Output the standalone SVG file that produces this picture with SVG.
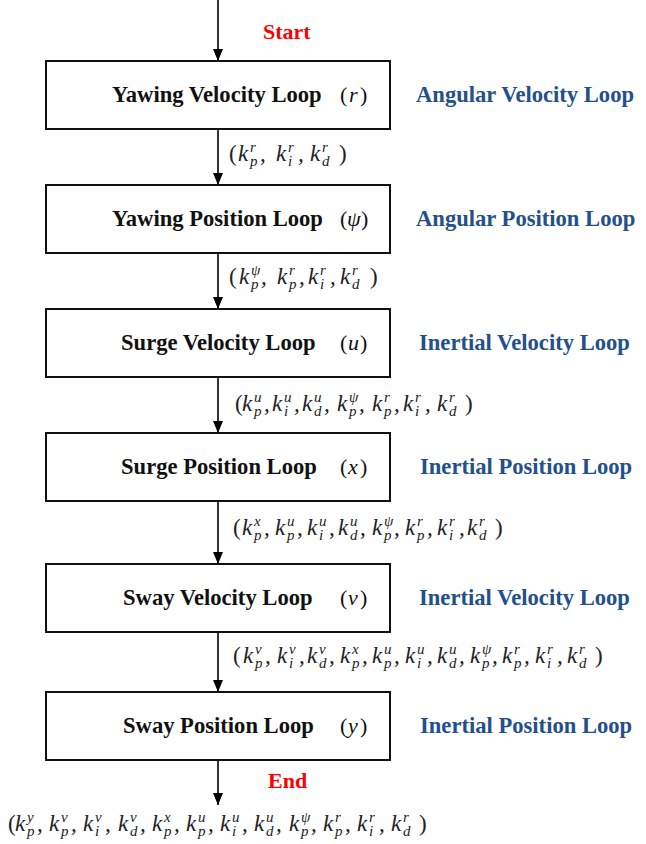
<svg xmlns="http://www.w3.org/2000/svg" width="646" height="844" viewBox="0 0 646 844">
<style>
.box{fill:#fff;stroke:#111;stroke-width:2}
.t{font-family:"Liberation Serif","Times New Roman",serif;font-weight:bold;font-size:22.6px;fill:#111}
.v{font-family:"Liberation Serif","Times New Roman",serif;font-size:22px;fill:#111}
.vi{font-style:italic}
.side{font-family:"Liberation Serif","Times New Roman",serif;font-weight:bold;font-size:22.6px;fill:#23508c}
.red{font-family:"Liberation Serif","Times New Roman",serif;font-weight:bold;font-size:22px;fill:#ff0000}
.m{font-family:"Liberation Serif","Times New Roman",serif;font-style:italic;font-size:23px;fill:#222}
.s{font-size:15px}
.u{font-style:normal}
.con{stroke:#000;stroke-width:1.6;fill:none;marker-end:url(#ah)}
</style>
<defs>
<marker id="ah" markerUnits="userSpaceOnUse" markerWidth="12" markerHeight="10" viewBox="0 0 12 10" refX="12" refY="5" orient="auto">
<path d="M0,0 L12,5 L0,10 z" fill="#000"/>
</marker>
</defs>
<rect width="646" height="844" fill="#fff"/>

<g id="connectors">
<line class="con" x1="218" y1="0" x2="218" y2="61"/>
<line class="con" x1="218" y1="129" x2="218" y2="185"/>
<line class="con" x1="218" y1="253" x2="218" y2="309"/>
<line class="con" x1="218" y1="377" x2="218" y2="433"/>
<line class="con" x1="218" y1="501" x2="218" y2="564"/>
<line class="con" x1="218" y1="632" x2="218" y2="692"/>
<line class="con" x1="218" y1="760" x2="218" y2="805"/>

<text class="m"><tspan class="u" x="229" y="161">(</tspan><tspan x="238" y="161">k</tspan><tspan class="s" x="250" y="152">r</tspan><tspan class="s" x="250" y="166">p</tspan><tspan x="260" y="161">,</tspan><tspan x="276" y="161">k</tspan><tspan class="s" x="288" y="152">r</tspan><tspan class="s" x="288" y="166">i</tspan><tspan x="298" y="161">,</tspan><tspan x="310" y="161">k</tspan><tspan class="s" x="322" y="152">r</tspan><tspan class="s" x="322" y="166">d</tspan><tspan class="u" x="339" y="161">)</tspan></text>

<text class="m"><tspan class="u" x="229" y="284">(</tspan><tspan x="239" y="284">k</tspan><tspan class="s" x="251" y="275">ψ</tspan><tspan class="s" x="251" y="289">p</tspan><tspan x="261" y="284">,</tspan><tspan x="277" y="284">k</tspan><tspan class="s" x="289" y="275">r</tspan><tspan class="s" x="289" y="289">p</tspan><tspan x="299" y="284">,</tspan><tspan x="308" y="284">k</tspan><tspan class="s" x="320" y="275">r</tspan><tspan class="s" x="320" y="289">i</tspan><tspan x="330" y="284">,</tspan><tspan x="340" y="284">k</tspan><tspan class="s" x="352" y="275">r</tspan><tspan class="s" x="352" y="289">d</tspan><tspan class="u" x="370" y="284">)</tspan></text>

<text class="m"><tspan class="u" x="235" y="411">(</tspan><tspan x="242" y="411">k</tspan><tspan class="s" x="254" y="402">u</tspan><tspan class="s" x="254" y="416">p</tspan><tspan x="264" y="411">,</tspan><tspan x="272" y="411">k</tspan><tspan class="s" x="284" y="402">u</tspan><tspan class="s" x="284" y="416">i</tspan><tspan x="294" y="411">,</tspan><tspan x="302" y="411">k</tspan><tspan class="s" x="314" y="402">u</tspan><tspan class="s" x="314" y="416">d</tspan><tspan x="324" y="411">,</tspan><tspan x="337" y="411">k</tspan><tspan class="s" x="349" y="402">ψ</tspan><tspan class="s" x="349" y="416">p</tspan><tspan x="359" y="411">,</tspan><tspan x="372" y="411">k</tspan><tspan class="s" x="384" y="402">r</tspan><tspan class="s" x="384" y="416">p</tspan><tspan x="394" y="411">,</tspan><tspan x="403" y="411">k</tspan><tspan class="s" x="415" y="402">r</tspan><tspan class="s" x="415" y="416">i</tspan><tspan x="425" y="411">,</tspan><tspan x="437" y="411">k</tspan><tspan class="s" x="449" y="402">r</tspan><tspan class="s" x="449" y="416">d</tspan><tspan class="u" x="465" y="411">)</tspan></text>

<text class="m"><tspan class="u" x="233" y="535">(</tspan><tspan x="242" y="535">k</tspan><tspan class="s" x="254" y="526">x</tspan><tspan class="s" x="254" y="540">p</tspan><tspan x="264" y="535">,</tspan><tspan x="275" y="535">k</tspan><tspan class="s" x="287" y="526">u</tspan><tspan class="s" x="287" y="540">p</tspan><tspan x="297" y="535">,</tspan><tspan x="307" y="535">k</tspan><tspan class="s" x="319" y="526">u</tspan><tspan class="s" x="319" y="540">i</tspan><tspan x="329" y="535">,</tspan><tspan x="338" y="535">k</tspan><tspan class="s" x="350" y="526">u</tspan><tspan class="s" x="350" y="540">d</tspan><tspan x="360" y="535">,</tspan><tspan x="372" y="535">k</tspan><tspan class="s" x="384" y="526">ψ</tspan><tspan class="s" x="384" y="540">p</tspan><tspan x="394" y="535">,</tspan><tspan x="405" y="535">k</tspan><tspan class="s" x="417" y="526">r</tspan><tspan class="s" x="417" y="540">p</tspan><tspan x="427" y="535">,</tspan><tspan x="437" y="535">k</tspan><tspan class="s" x="449" y="526">r</tspan><tspan class="s" x="449" y="540">i</tspan><tspan x="459" y="535">,</tspan><tspan x="467" y="535">k</tspan><tspan class="s" x="479" y="526">r</tspan><tspan class="s" x="479" y="540">d</tspan><tspan class="u" x="495" y="535">)</tspan></text>

<text class="m"><tspan class="u" x="233" y="663">(</tspan><tspan x="243" y="663">k</tspan><tspan class="s" x="255" y="654">v</tspan><tspan class="s" x="255" y="668">p</tspan><tspan x="265" y="663">,</tspan><tspan x="277" y="663">k</tspan><tspan class="s" x="289" y="654">v</tspan><tspan class="s" x="289" y="668">i</tspan><tspan x="299" y="663">,</tspan><tspan x="307" y="663">k</tspan><tspan class="s" x="319" y="654">v</tspan><tspan class="s" x="319" y="668">d</tspan><tspan x="329" y="663">,</tspan><tspan x="340" y="663">k</tspan><tspan class="s" x="352" y="654">x</tspan><tspan class="s" x="352" y="668">p</tspan><tspan x="362" y="663">,</tspan><tspan x="372" y="663">k</tspan><tspan class="s" x="384" y="654">u</tspan><tspan class="s" x="384" y="668">p</tspan><tspan x="394" y="663">,</tspan><tspan x="405" y="663">k</tspan><tspan class="s" x="417" y="654">u</tspan><tspan class="s" x="417" y="668">i</tspan><tspan x="427" y="663">,</tspan><tspan x="437" y="663">k</tspan><tspan class="s" x="449" y="654">u</tspan><tspan class="s" x="449" y="668">d</tspan><tspan x="459" y="663">,</tspan><tspan x="470" y="663">k</tspan><tspan class="s" x="482" y="654">ψ</tspan><tspan class="s" x="482" y="668">p</tspan><tspan x="492" y="663">,</tspan><tspan x="502" y="663">k</tspan><tspan class="s" x="514" y="654">r</tspan><tspan class="s" x="514" y="668">p</tspan><tspan x="524" y="663">,</tspan><tspan x="535" y="663">k</tspan><tspan class="s" x="547" y="654">r</tspan><tspan class="s" x="547" y="668">i</tspan><tspan x="557" y="663">,</tspan><tspan x="567" y="663">k</tspan><tspan class="s" x="579" y="654">r</tspan><tspan class="s" x="579" y="668">d</tspan><tspan class="u" x="595" y="663">)</tspan></text>

<text class="m"><tspan class="u" x="8" y="831">(</tspan><tspan x="15" y="831">k</tspan><tspan class="s" x="27" y="822">y</tspan><tspan class="s" x="27" y="836">p</tspan><tspan x="37" y="831">,</tspan><tspan x="49" y="831">k</tspan><tspan class="s" x="61" y="822">v</tspan><tspan class="s" x="61" y="836">p</tspan><tspan x="71" y="831">,</tspan><tspan x="83" y="831">k</tspan><tspan class="s" x="95" y="822">v</tspan><tspan class="s" x="95" y="836">i</tspan><tspan x="105" y="831">,</tspan><tspan x="118" y="831">k</tspan><tspan class="s" x="130" y="822">v</tspan><tspan class="s" x="130" y="836">d</tspan><tspan x="140" y="831">,</tspan><tspan x="152" y="831">k</tspan><tspan class="s" x="164" y="822">x</tspan><tspan class="s" x="164" y="836">p</tspan><tspan x="174" y="831">,</tspan><tspan x="186" y="831">k</tspan><tspan class="s" x="198" y="822">u</tspan><tspan class="s" x="198" y="836">p</tspan><tspan x="208" y="831">,</tspan><tspan x="220" y="831">k</tspan><tspan class="s" x="232" y="822">u</tspan><tspan class="s" x="232" y="836">i</tspan><tspan x="242" y="831">,</tspan><tspan x="254" y="831">k</tspan><tspan class="s" x="266" y="822">u</tspan><tspan class="s" x="266" y="836">d</tspan><tspan x="276" y="831">,</tspan><tspan x="289" y="831">k</tspan><tspan class="s" x="301" y="822">ψ</tspan><tspan class="s" x="301" y="836">p</tspan><tspan x="311" y="831">,</tspan><tspan x="323" y="831">k</tspan><tspan class="s" x="335" y="822">r</tspan><tspan class="s" x="335" y="836">p</tspan><tspan x="345" y="831">,</tspan><tspan x="357" y="831">k</tspan><tspan class="s" x="369" y="822">r</tspan><tspan class="s" x="369" y="836">i</tspan><tspan x="379" y="831">,</tspan><tspan x="391" y="831">k</tspan><tspan class="s" x="403" y="822">r</tspan><tspan class="s" x="403" y="836">d</tspan><tspan class="u" x="419" y="831">)</tspan></text>
</g>

<text class="red" x="263" y="39">Start</text>
<text class="red" x="268" y="788">End</text>

<g id="yawing-velocity">
<rect class="box" x="46" y="61" width="344" height="68"/>
<text class="t" x="112" y="102">Yawing Velocity Loop</text>
<text class="v" y="102"><tspan x="340">(</tspan><tspan class="vi" x="349">r</tspan><tspan x="360">)</tspan></text>
<text class="side" x="416" y="102">Angular Velocity Loop</text>
</g>

<g id="yawing-position">
<rect class="box" x="46" y="185" width="344" height="68"/>
<text class="t" x="112" y="226">Yawing Position Loop</text>
<text class="v" y="226"><tspan x="340">(</tspan><tspan class="vi" x="347">ψ</tspan><tspan x="361">)</tspan></text>
<text class="side" x="416" y="226">Angular Position Loop</text>
</g>

<g id="surge-velocity">
<rect class="box" x="46" y="309" width="344" height="68"/>
<text class="t" x="121" y="350">Surge Velocity Loop</text>
<text class="v" y="350"><tspan x="340">(</tspan><tspan class="vi" x="348">u</tspan><tspan x="360">)</tspan></text>
<text class="side" x="419" y="350">Inertial Velocity Loop</text>
</g>

<g id="surge-position">
<rect class="box" x="46" y="433" width="344" height="68"/>
<text class="t" x="121" y="474">Surge Position Loop</text>
<text class="v" y="474"><tspan x="340">(</tspan><tspan class="vi" x="348">x</tspan><tspan x="360">)</tspan></text>
<text class="side" x="420" y="474">Inertial Position Loop</text>
</g>

<g id="sway-velocity">
<rect class="box" x="46" y="564" width="344" height="68"/>
<text class="t" x="123" y="605">Sway Velocity Loop</text>
<text class="v" y="605"><tspan x="340">(</tspan><tspan class="vi" x="348">v</tspan><tspan x="360">)</tspan></text>
<text class="side" x="419" y="605">Inertial Velocity Loop</text>
</g>

<g id="sway-position">
<rect class="box" x="46" y="692" width="344" height="68"/>
<text class="t" x="123" y="733">Sway Position Loop</text>
<text class="v" y="733"><tspan x="340">(</tspan><tspan class="vi" x="348">y</tspan><tspan x="360">)</tspan></text>
<text class="side" x="420" y="733">Inertial Position Loop</text>
</g>
</svg>
